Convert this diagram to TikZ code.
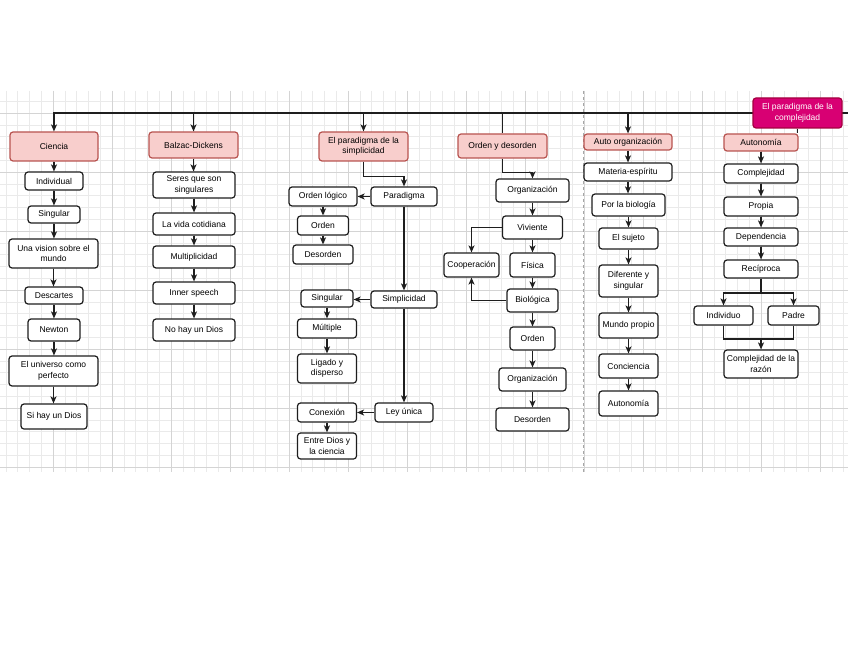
\documentclass[tikz,border=0pt]{standalone}
\usepackage{fontspec}
\setmainfont{Liberation Sans}
\usetikzlibrary{arrows.meta}
\definecolor{pinkfill}{HTML}{F8CECC}
\definecolor{pinkdraw}{HTML}{B85450}
\definecolor{magfill}{HTML}{D80073}
\definecolor{magdraw}{HTML}{A50040}
\definecolor{gridminor}{HTML}{EAEAEA}
\definecolor{gridmajor}{HTML}{D4D4D4}
\definecolor{linecol}{HTML}{1E1E1E}
\tikzset{
  box/.style={draw=linecol, line width=1.2pt, fill=white, rounded corners=3pt,
    align=center, inner sep=0pt, font=\fontsize{8.5}{10.5}\selectfont},
  pinkbox/.style={box, draw=pinkdraw, fill=pinkfill},
  magbox/.style={box, draw=magdraw, fill=magfill, text=white},
  arr/.style={draw=linecol, line width=1.25pt, -{Stealth[length=7pt,width=6pt,inset=1.8pt]}},
  conn/.style={draw=linecol, line width=1.25pt},
  gminor/.style={draw=gridminor, line width=0.5pt},
  gmajor/.style={draw=gridmajor, line width=0.7pt},
}
\newcommand{\bx}[6][box]{\node[#1, minimum width=#4pt, minimum height=#5pt] (#2) at (#3) {#6};}
\begin{document}
\begin{tikzpicture}[x=1pt, y=-1pt]
\useasboundingbox (0,0) rectangle (848,655);
\fill[white] (0,0) rectangle (848,655);
% grid
\foreach \k in {-4,...,67} {\draw[gminor] ({53+11.8*\k},91) -- ({53+11.8*\k},472);}
\foreach \k in {-1,...,30} {\draw[gminor] (0,{113+11.8*\k}) -- (848,{113+11.8*\k});}
\foreach \k in {0,...,13} {\draw[gmajor] ({53+59*\k},91) -- ({53+59*\k},472);}
\foreach \k in {0,...,6} {\draw[gmajor] (0,{113+59*\k}) -- (848,{113+59*\k});}
\draw[gmajor, dashed, draw=gray!70] (583,91) -- (583,472);

% bus
\coordinate (busL) at (53,113);
\coordinate (busR) at (848,113);

% column 1
\bx[pinkbox]{ciencia}{54,146.5}{88}{29}{Ciencia}
\bx{indiv}{54,181}{58}{18}{Individual}
\bx{singa}{54,214.5}{52}{17}{Singular}
\bx{vision}{53.5,253.5}{89}{29}{Una vision sobre el\\mundo}
\bx{desc}{54,295.5}{58}{17}{Descartes}
\bx{newton}{54,330}{52}{22}{Newton}
\bx{universo}{53.5,371}{89}{30}{El universo como\\perfecto}
\bx{sidios}{54,416.5}{66}{25}{Si hay un Dios}

% column 2
\bx[pinkbox]{balzac}{193.5,145}{89}{26}{Balzac-Dickens}
\bx{seres}{194,185}{82}{26}{Seres que son\\singulares}
\bx{vida}{194,224}{82}{22}{La vida cotidiana}
\bx{multi}{194,257}{82}{22}{Multiplicidad}
\bx{inner}{194,293}{82}{22}{Inner speech}
\bx{nodios}{194,330}{82}{22}{No hay un Dios}

% column 3
\bx[pinkbox]{simpl}{363.5,146.5}{89}{29}{El paradigma de la\\simplicidad}
\bx{parad}{404,196.5}{66}{19}{Paradigma}
\bx{ordlog}{323,196.5}{68}{19}{Orden lógico}
\bx{ordena}{323,225.5}{51}{19}{Orden}
\bx{desora}{323,254.5}{60}{19}{Desorden}
\bx{simplic}{404,299.5}{66}{17}{Simplicidad}
\bx{singb}{327,298.5}{52}{17}{Singular}
\bx{mult}{327,328.5}{59}{19}{Múltiple}
\bx{ligado}{327,368.5}{59}{29}{Ligado y\\disperso}
\bx{ley}{404,412.5}{58}{19}{Ley única}
\bx{conex}{327,412.5}{59}{19}{Conexión}
\bx{entre}{327,446}{59}{26}{Entre Dios y\\la ciencia}

% column 4
\bx[pinkbox]{ordend}{502.5,146}{89}{24}{Orden y desorden}
\bx{orga}{532.5,190.5}{73}{23}{Organización}
\bx{viv}{532.5,227.5}{60}{23}{Viviente}
\bx{coop}{471.5,265}{55}{24}{Cooperación}
\bx{fis}{532.5,265}{45}{24}{Física}
\bx{bio}{532.5,300.5}{51}{23}{Biológica}
\bx{ordenb}{532.5,338.5}{45}{23}{Orden}
\bx{orgb}{532.5,379.5}{67}{23}{Organización}
\bx{desorb}{532.5,419.5}{73}{23}{Desorden}

% column 5
\bx[pinkbox]{autoorg}{628,142}{88}{16}{Auto organización}
\bx{materia}{628,172}{88}{18}{Materia-espíritu}
\bx{porbio}{628.5,205}{73}{22}{Por la biología}
\bx{sujeto}{628.5,238.5}{59}{21}{El sujeto}
\bx{difer}{628.5,281}{59}{32}{Diferente y\\singular}
\bx{mundo}{628.5,325.5}{59}{25}{Mundo propio}
\bx{conci}{628.5,366}{59}{24}{Conciencia}
\bx{autona}{628.5,403.5}{59}{25}{Autonomía}

% column 6
\bx[pinkbox]{autonb}{761,142.5}{74}{17}{Autonomía}
\bx{compl}{761,173.5}{74}{19}{Complejidad}
\bx{propia}{761,206.5}{74}{19}{Propia}
\bx{depend}{761,237}{74}{18}{Dependencia}
\bx{recip}{761,269}{74}{18}{Recíproca}
\bx{indivb}{723.5,315.5}{59}{19}{Individuo}
\bx{padre}{793.5,315.5}{51}{19}{Padre}
\bx{razon}{761,364}{74}{28}{Complejidad de la\\razón}

% bus line and root
\draw[conn] (busL) -- (busR);
\bx[magbox]{root}{797.5,113}{89}{30}{El paradigma de la\\complejidad}

% bus drops
\draw[arr] (ciencia.north |- busL) -- (ciencia.north);
\draw[arr] (balzac.north |- busL) -- (balzac.north);
\draw[arr] (simpl.north |- busL) -- (simpl.north);
\draw[conn] (ordend.north |- busL) -- (ordend.north);
\draw[arr] (autoorg.north |- busL) -- (autoorg.north);
\draw[conn] (root.south) -- (root.south |- autonb.north);

% column 1 chain
\foreach \a/\b in {ciencia/indiv, indiv/singa, singa/vision, vision/desc, desc/newton, newton/universo, universo/sidios}
  {\draw[arr] (\a.south) -- (\a.south |- \b.north);}
% column 2 chain
\foreach \a/\b in {balzac/seres, seres/vida, vida/multi, multi/inner, inner/nodios}
  {\draw[arr] (\a.south) -- (\a.south |- \b.north);}

% column 3
\draw[arr] (simpl.south) -- ++(0,15) -| (parad.north);
\draw[arr] (parad.west) -- (ordlog.east);
\draw[arr] (ordlog.south) -- (ordlog.south |- ordena.north);
\draw[arr] (ordena.south) -- (ordena.south |- desora.north);
\draw[arr] (parad.south) -- (simplic.north);
\draw[arr] (simplic.west) -- (simplic.west -| singb.east);
\draw[arr] (singb.south) -- (singb.south |- mult.north);
\draw[arr] (mult.south) -- (mult.south |- ligado.north);
\draw[arr] (simplic.south) -- (ley.north);
\draw[arr] (ley.west) -- (ley.west -| conex.east);
\draw[arr] (conex.south) -- (conex.south |- entre.north);

% column 4
\draw[arr] (ordend.south) -- ++(0,14) -| (orga.north);
\draw[arr] (orga.south) -- (orga.south |- viv.north);
\draw[arr] (viv.west) -| (coop.north);
\draw[arr] (viv.south) -- (viv.south |- fis.north);
\draw[arr] (fis.south) -- (fis.south |- bio.north);
\draw[arr] (bio.west) -| (coop.south);
\draw[arr] (bio.south) -- (bio.south |- ordenb.north);
\draw[arr] (ordenb.south) -- (ordenb.south |- orgb.north);
\draw[arr] (orgb.south) -- (orgb.south |- desorb.north);

% column 5
\foreach \a/\b in {autoorg/materia, materia/porbio, porbio/sujeto, sujeto/difer, difer/mundo, mundo/conci, conci/autona}
  {\draw[arr] (\a.south) -- (\a.south |- \b.north);}

% column 6
\foreach \a/\b in {autonb/compl, compl/propia, propia/depend, depend/recip}
  {\draw[arr] (\a.south) -- (\a.south |- \b.north);}
\coordinate (fork) at (761,293);
\coordinate (join) at (761,339);
\draw[conn] (recip.south) -- (fork);
\draw[arr] (fork) -| (indivb.north);
\draw[arr] (fork) -| (padre.north);
\draw[conn] (indivb.south) |- (join) -| (padre.south);
\draw[arr] (join) -- (razon.north);
\end{tikzpicture}
\end{document}
